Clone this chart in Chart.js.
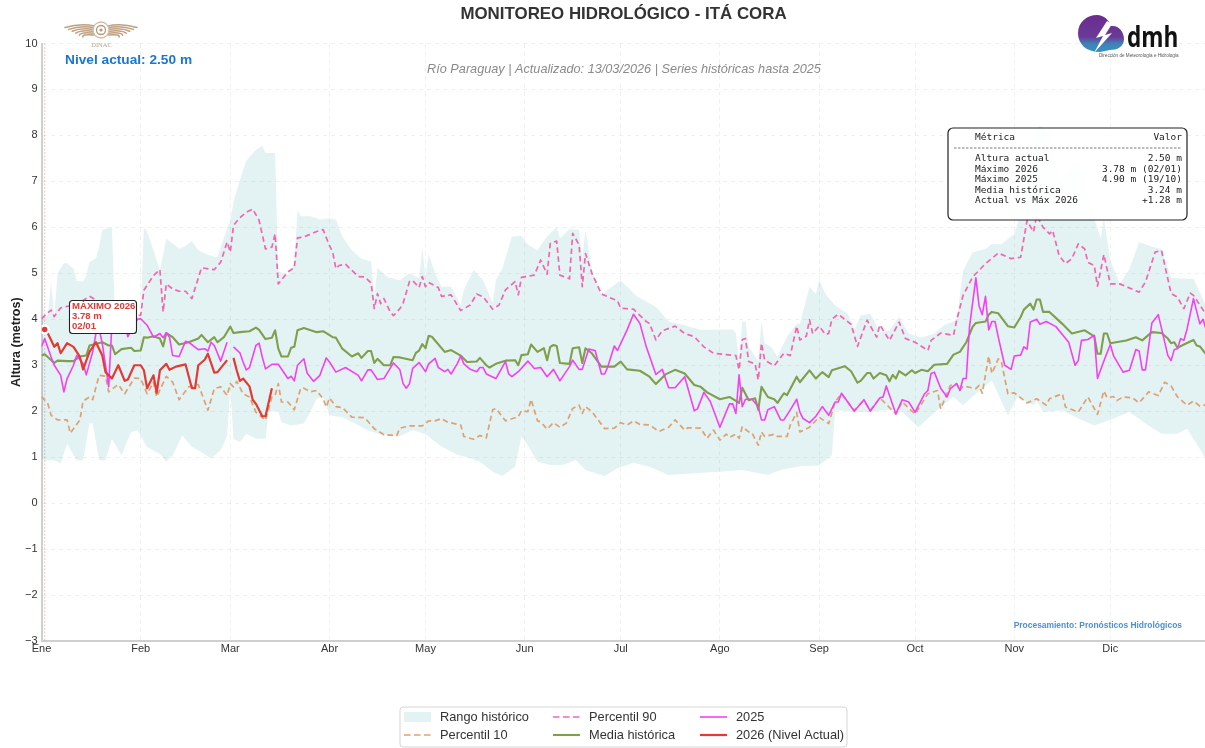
<!DOCTYPE html>
<html>
<head>
<meta charset="utf-8">
<title>Monitoreo hidrológico - Itá Cora</title>
<script src="https://cdn.jsdelivr.net/npm/chart.js@4"></script>
<style>
  html, body { margin: 0; padding: 0; background: #fff; overflow: hidden; }
  canvas { display: block; }
</style>
</head>
<body>
<canvas id="chart" width="1205" height="748"></canvas>
<script>
// Day of the year (0 = 1 Jan) and height in metres
const monthStarts = [0, 31, 59, 90, 120, 151, 181, 212, 243, 273, 304, 334]
const monthLabels = ['Ene', 'Feb', 'Mar', 'Abr', 'May', 'Jun', 'Jul', 'Ago', 'Sep', 'Oct', 'Nov', 'Dic']

const rangeMax = [[0,4.0],[2,4.1],[3,4.8],[4,4.05],[5,5.0],[7,5.22],[8,5.22],[10,5.1],[11,4.83],[13,4.82],[14,4.95],[15,5.25],[17,5.32],[18,5.57],[19,5.95],[22,6.0],[23,4.0],[27,4.05],[31,4.05],[32,6.0],[33,5.9],[35,5.5],[37,5.06],[39,5.75],[42,5.6],[43,5.53],[45,5.6],[47,5.7],[49,5.5],[52,5.4],[55,5.35],[56,5.57],[59,6.15],[60,6.55],[62,7.03],[64,7.45],[67,7.69],[69,7.77],[70,7.62],[73,7.62],[74,5.05],[75,5.02],[77,4.97],[79,5.2],[80,6.37],[81,6.24],[84,6.24],[87,6.17],[90,6.2],[92,6.17],[94,5.8],[97,5.5],[100,5.32],[103,5.25],[104,4.45],[105,5.12],[108,4.92],[112,4.85],[115,5.0],[118,4.89],[119,5.55],[120,4.92],[121,5.4],[123,5.0],[125,4.71],[128,4.71],[131,4.31],[132,4.64],[135,5.07],[138,4.85],[141,4.35],[142,4.85],[144,5.1],[147,5.8],[150,5.81],[152,5.62],[155,5.5],[158,5.8],[161,6.0],[162,5.76],[165,5.96],[168,5.95],[169,5.33],[170,5.95],[172,5.07],[175,4.53],[177,4.64],[181,4.85],[186,4.5],[192,4.27],[196,3.95],[201,3.87],[206,3.77],[216,3.78],[217,3.7],[218,3.1],[219,3.95],[220,3.95],[221,3.4],[224,3.1],[225,3.95],[226,3.48],[228,3.4],[230,3.19],[233,3.62],[236,3.9],[237,3.9],[240,4.7],[242,4.55],[243,4.86],[245,4.55],[248,4.3],[252,4.12],[254,3.76],[256,4.08],[259,4.12],[262,3.72],[265,3.76],[268,4.05],[271,3.69],[275,3.6],[279,3.69],[282,3.87],[286,3.98],[288,5.06],[291,5.46],[295,5.53],[297,5.64],[300,5.63],[304,5.86],[306,6.3],[308,7.4],[310,8.1],[312,8.2],[315,8.1],[318,7.0],[324,7.38],[329,6.2],[331,5.75],[332,6.2],[334,5.28],[337,4.77],[340,5.1],[343,5.68],[347,5.58],[350,5.53],[353,4.9],[357,4.88],[360,4.88],[364,4.27]]

const rangeMin = [[0,0.97],[1,0.93],[4,0.93],[6,0.87],[8,1.29],[11,0.93],[13,0.93],[15,1.73],[16,1.73],[18,0.93],[20,0.93],[22,1.4],[25,1.04],[28,1.55],[30,1.58],[33,1.22],[37,1.07],[39,0.9],[41,1.04],[44,1.47],[47,1.22],[49,1.15],[53,0.97],[56,1.15],[58,1.47],[59,2.5],[60,1.4],[62,1.33],[64,1.51],[67,1.4],[70,1.4],[71,2.0],[74,2.0],[75,1.76],[78,1.69],[82,1.73],[84,1.98],[86,2.27],[88,2.31],[90,1.91],[94,1.87],[98,1.73],[102,1.58],[107,1.47],[112,1.46],[116,1.59],[120,1.5],[125,1.23],[130,1.05],[133,1.0],[137,0.9],[141,0.68],[144,0.59],[148,0.79],[150,1.45],[152,1.26],[155,0.9],[159,0.83],[163,0.83],[167,0.94],[170,0.72],[176,0.59],[180,0.76],[185,0.88],[190,0.79],[196,0.61],[204,0.65],[212,0.68],[219,0.72],[227,0.61],[231,0.72],[237,0.8],[243,0.82],[247,1.04],[248,2.02],[258,1.98],[264,2.02],[268,2.05],[274,1.65],[277,1.84],[281,2.09],[285,2.31],[288,2.13],[292,2.38],[297,2.67],[302,1.91],[305,2.31],[310,2.13],[311,2.23],[313,1.98],[319,2.02],[324,1.84],[329,1.69],[335,1.84],[340,1.98],[345,1.73],[350,1.51],[355,1.51],[358,1.62],[362,1.18],[364,0.93]]

const percentil10 = [[0,2.32],[2,2.16],[3,1.91],[5,1.81],[8,1.81],[9,1.52],[12,1.81],[13,2.22],[15,2.31],[16,2.25],[18,2.78],[20,2.76],[21,2.42],[23,2.53],[24,2.58],[26,2.38],[29,2.72],[31,2.71],[33,2.38],[35,2.63],[36,2.31],[39,2.76],[41,2.63],[43,2.25],[46,2.53],[49,2.58],[52,2.02],[54,2.49],[56,2.53],[58,2.34],[59,2.6],[60,2.53],[61,2.65],[63,2.38],[65,2.31],[67,1.98],[70,1.8],[72,2.31],[73,2.34],[74,2.6],[75,2.2],[77,2.2],[79,2.03],[81,2.5],[82,2.5],[84,2.42],[86,2.45],[88,2.27],[89,2.09],[90,2.29],[92,2.1],[94,2.08],[97,1.87],[101,1.86],[104,1.62],[107,1.49],[111,1.47],[112,1.63],[115,1.68],[119,1.68],[121,1.79],[123,1.79],[125,1.84],[127,1.76],[131,1.7],[132,1.45],[135,1.39],[137,1.47],[139,1.42],[141,2.03],[142,2.06],[145,1.79],[149,1.88],[150,2.01],[152,1.99],[153,2.26],[155,1.79],[156,1.77],[158,1.61],[160,1.75],[162,1.65],[164,1.74],[166,2.06],[168,2.13],[169,1.95],[170,2.1],[172,1.99],[176,1.62],[179,1.63],[181,1.75],[183,1.7],[185,1.79],[187,1.71],[190,1.7],[193,1.56],[196,1.65],[198,1.81],[201,1.59],[202,1.64],[206,1.63],[208,1.41],[210,1.59],[212,1.37],[214,1.5],[215,1.43],[217,1.5],[218,1.41],[219,1.66],[221,1.55],[222,1.53],[224,1.26],[225,1.55],[226,1.45],[229,1.5],[230,1.45],[233,1.45],[234,1.7],[236,1.97],[237,1.55],[240,1.65],[243,1.87],[246,1.73],[248,2.2],[250,2.38],[254,2.02],[257,2.23],[259,2.02],[262,2.29],[267,1.94],[269,2.2],[273,1.94],[277,2.38],[280,2.45],[281,2.05],[284,2.56],[286,2.6],[287,2.45],[288,2.55],[292,2.49],[293,2.56],[294,2.39],[296,3.2],[297,2.82],[299,3.14],[300,3.07],[302,2.38],[304,2.4],[308,2.18],[311,2.27],[314,2.13],[315,2.27],[319,2.38],[320,2.09],[324,1.98],[327,2.31],[330,1.93],[332,2.44],[333,2.29],[335,2.32],[336,2.23],[338,2.31],[341,2.29],[343,2.18],[346,2.42],[349,2.34],[351,2.63],[353,2.55],[355,2.31],[358,2.13],[360,2.22],[362,2.11],[364,2.14]]

const percentil90 = [[0,4.01],[1,4.08],[3,4.2],[4,4.06],[6,4.25],[8,4.28],[11,4.3],[13,4.41],[15,4.5],[20,4.3],[25,4.1],[30,4.08],[31,4.09],[32,4.63],[33,4.74],[35,4.95],[37,5.08],[38,4.16],[39,4.77],[41,4.66],[43,4.61],[45,4.61],[47,4.45],[50,5.12],[54,5.08],[56,5.24],[58,5.68],[59,5.46],[60,6.04],[62,6.21],[64,6.33],[66,6.4],[68,6.15],[70,5.53],[72,5.57],[73,5.86],[74,4.77],[77,5.03],[79,5.12],[80,5.77],[82,5.79],[86,5.91],[88,5.95],[90,5.6],[91,5.46],[92,5.1],[93,5.17],[95,5.2],[96,5.13],[99,4.93],[101,4.92],[103,4.79],[104,4.23],[105,4.56],[106,4.34],[107,4.45],[109,4.16],[110,4.08],[112,4.23],[113,4.35],[115,4.82],[116,4.84],[118,4.69],[119,4.93],[120,4.71],[121,4.8],[124,4.69],[125,4.5],[128,4.53],[131,4.19],[134,4.31],[136,4.55],[138,4.49],[141,4.22],[143,4.31],[145,4.64],[148,4.82],[149,4.53],[150,4.91],[154,4.96],[156,5.29],[158,4.98],[159,5.65],[161,5.7],[162,4.96],[165,4.88],[166,5.87],[168,5.62],[169,4.71],[170,5.43],[172,5.0],[175,4.55],[180,4.4],[181,4.24],[185,4.22],[189,3.95],[190,3.91],[192,3.55],[194,3.75],[198,3.85],[201,3.69],[204,3.62],[207,3.4],[210,3.26],[217,3.21],[218,2.9],[219,3.56],[220,3.58],[221,3.08],[223,3.03],[224,2.68],[225,3.48],[226,3.11],[229,2.99],[232,3.26],[234,3.21],[236,3.85],[237,3.55],[239,3.63],[240,3.99],[241,3.69],[243,3.85],[245,3.67],[246,3.69],[247,4.0],[249,4.11],[253,3.89],[255,3.41],[258,3.98],[261,3.61],[262,3.88],[265,3.54],[268,3.94],[270,3.58],[273,3.5],[277,3.32],[278,3.54],[281,3.7],[285,3.65],[286,3.98],[288,4.52],[291,4.92],[295,5.21],[299,5.44],[303,5.32],[306,5.35],[308,6.15],[310,5.9],[311,6.26],[313,6.0],[315,5.86],[316,5.93],[318,5.39],[320,5.21],[322,5.32],[324,5.64],[326,5.53],[327,5.24],[329,5.17],[330,4.72],[332,5.41],[334,4.77],[337,4.77],[343,4.59],[345,4.81],[348,5.46],[350,5.5],[353,4.56],[355,4.48],[357,4.23],[359,4.57],[360,4.52],[364,4.1]]

const mediaHistorica = [[0,3.21],[1,3.24],[4,3.05],[5,3.1],[8,3.09],[10,3.09],[12,3.19],[14,3.21],[15,3.43],[19,3.5],[21,3.43],[22,3.43],[23,3.24],[25,3.35],[28,3.38],[29,3.31],[31,3.32],[32,3.61],[33,3.6],[35,3.63],[37,3.58],[38,3.41],[39,3.7],[41,3.61],[43,3.45],[46,3.5],[49,3.58],[50,3.66],[52,3.5],[54,3.61],[55,3.5],[57,3.61],[59,3.84],[60,3.7],[62,3.72],[65,3.74],[67,3.82],[68,3.77],[70,3.57],[72,3.6],[73,3.76],[74,3.36],[75,3.19],[77,3.19],[78,3.38],[79,3.4],[80,3.76],[82,3.81],[86,3.72],[88,3.74],[91,3.61],[92,3.6],[94,3.36],[97,3.19],[99,3.26],[100,3.16],[102,3.31],[103,3.31],[104,3.05],[105,3.14],[107,3.0],[109,3.0],[110,3.18],[112,3.17],[116,3.11],[117,3.27],[118,3.32],[119,3.46],[120,3.37],[121,3.64],[122,3.62],[126,3.29],[128,3.33],[131,3.21],[133,3.07],[136,3.08],[137,3.16],[139,3.0],[140,2.95],[142,3.03],[145,3.1],[148,3.11],[149,3.0],[150,3.22],[152,3.24],[153,3.45],[155,3.29],[157,3.37],[158,3.11],[159,3.4],[160,3.44],[161,3.42],[162,3.05],[165,3.03],[166,3.37],[168,3.39],[169,3.05],[170,3.37],[172,3.26],[175,2.97],[179,2.97],[181,3.08],[183,2.91],[187,2.88],[190,2.75],[192,2.59],[195,2.8],[198,2.9],[201,2.82],[204,2.57],[206,2.53],[208,2.41],[212,2.26],[215,2.31],[218,2.18],[219,2.51],[221,2.24],[223,2.28],[224,2.03],[225,2.53],[227,2.31],[229,2.26],[230,2.18],[232,2.39],[233,2.35],[236,2.75],[237,2.63],[240,2.89],[242,2.71],[244,2.85],[246,2.74],[247,2.89],[251,2.98],[253,2.87],[255,2.62],[256,2.66],[258,2.83],[259,2.83],[260,2.71],[262,2.83],[264,2.78],[265,2.65],[266,2.79],[267,2.71],[268,2.87],[270,2.78],[272,2.89],[273,2.83],[275,2.9],[277,2.87],[279,3.01],[283,3.03],[285,3.23],[287,3.29],[289,3.5],[291,3.84],[292,3.92],[295,3.95],[296,4.1],[297,4.16],[299,4.13],[302,3.85],[304,3.82],[306,4.05],[307,4.21],[309,4.34],[310,4.21],[311,4.43],[312,4.43],[313,4.16],[315,4.16],[319,3.9],[322,3.69],[326,3.76],[329,3.63],[330,3.25],[331,3.25],[332,3.69],[333,3.69],[334,3.48],[339,3.54],[342,3.61],[344,3.54],[347,3.72],[350,3.7],[352,3.58],[353,3.48],[354,3.5],[355,3.38],[357,3.45],[360,3.55],[361,3.43],[362,3.41],[364,3.23]]

const serie2025 = [[0,3.41],[1,3.58],[3,3.18],[4,3.0],[6,2.78],[7,2.42],[8,2.71],[10,3.0],[11,3.21],[13,3.03],[14,2.79],[16,3.29],[17,3.69],[18,3.79],[19,3.47],[21,2.53],[22,3.9],[23,4.0],[25,4.05],[26,3.9],[27,3.62],[29,3.9],[30,4.0],[31,4.01],[33,3.87],[35,3.61],[37,3.69],[38,3.6],[39,3.71],[40,3.61],[41,3.21],[43,3.19],[45,3.52],[46,3.5],[49,3.34],[51,3.36],[52,3.31],[53,3.5],[54,3.43],[56,3.09],[58,3.5],[59,null],[60,3.4],[62,3.27],[63,3.07],[64,2.9],[65,2.95],[67,3.43],[68,3.48],[69,3.18],[70,2.92],[72,3.02],[74,3.02],[77,2.71],[78,2.76],[79,2.66],[80,3.0],[82,3.14],[83,2.83],[85,2.65],[87,2.78],[89,3.16],[90,3.07],[92,2.85],[95,2.95],[99,2.78],[100,2.66],[102,2.9],[103,2.9],[105,2.69],[107,2.71],[110,3.05],[112,2.9],[113,2.6],[114,2.5],[115,2.6],[116,2.93],[118,3.06],[120,2.86],[121,3.03],[123,3.15],[124,2.95],[126,2.86],[127,2.91],[128,2.81],[130,3.04],[131,3.2],[132,3.03],[134,2.91],[136,2.86],[137,2.95],[138,2.95],[139,2.81],[142,2.71],[145,3.08],[146,2.81],[147,2.75],[149,2.86],[152,3.09],[154,2.93],[156,2.95],[158,2.75],[160,2.91],[162,2.66],[165,2.97],[166,3.11],[168,2.91],[169,2.91],[171,3.35],[173,3.32],[175,2.81],[176,2.81],[177,2.97],[179,3.42],[180,3.32],[183,3.77],[185,4.11],[187,3.91],[189,3.4],[192,2.8],[194,2.91],[196,2.51],[198,2.51],[201,2.75],[204,2.01],[205,2.05],[207,2.41],[209,2.21],[212,1.65],[215,2.16],[216,2.16],[217,1.95],[218,2.79],[219,2.1],[220,2.26],[222,2.26],[224,2.1],[225,1.81],[226,1.81],[227,2.03],[229,2.1],[231,1.81],[232,1.81],[234,2.03],[236,2.26],[237,1.98],[238,1.84],[240,1.75],[242,1.89],[244,2.1],[246,1.91],[248,2.2],[249,2.2],[250,2.39],[254,2.0],[257,2.25],[259,2.0],[262,2.29],[263,2.31],[264,2.55],[267,1.94],[269,2.25],[271,2.2],[273,1.98],[276,2.38],[277,2.45],[278,2.82],[279,2.85],[281,2.5],[283,2.31],[284,2.49],[286,2.6],[287,2.45],[288,2.71],[289,2.71],[290,3.83],[292,4.9],[293,4.29],[294,4.1],[295,4.5],[296,3.77],[297,3.95],[298,3.95],[299,3.61],[301,3.0],[303,2.91],[304,3.2],[306,3.22],[307,3.4],[308,3.35],[309,3.94],[311,4.0],[312,3.89],[314,3.95],[317,3.84],[321,3.5],[323,3.0],[324,3.1],[325,3.54],[327,3.56],[329,3.65],[330,2.71],[332,3.09],[334,3.45],[335,3.21],[338,2.85],[340,2.89],[342,3.34],[343,3.31],[344,2.9],[345,2.9],[347,3.92],[349,4.1],[352,3.21],[353,3.1],[354,3.34],[355,3.36],[356,3.58],[357,3.54],[358,3.79],[360,4.45],[362,3.9],[363,4.0],[364,3.76]]

const serie2026 = [[1,3.78],[2,3.69],[4,3.4],[5,3.48],[6,3.26],[8,3.48],[10,3.4],[12,3.18],[13,2.91],[15,3.29],[17,3.5],[19,3.21],[20,2.85],[22,2.71],[24,3.0],[26,2.66],[27,2.69],[29,3.0],[31,3.0],[32,2.89],[33,2.5],[35,2.78],[36,2.4],[37,2.89],[39,3.03],[40,2.9],[42,2.97],[45,3.02],[47,2.5],[48,2.5],[49,3.0],[51,3.12],[52,3.25],[54,2.84],[55,2.85],[58,3.11],[59,null],[60,3.16],[61,2.89],[62,2.66],[63,2.71],[65,2.54],[66,2.25],[67,2.16],[69,1.89],[70,1.89],[72,2.5]]

const maximo2026 = [[1,3.78]]

const yMin = -3
const yMax = 10
const xMax = 363.6

const infoRows = [
  ['Altura actual', '2.50 m'],
  ['Máximo 2026', '3.78 m (02/01)'],
  ['Máximo 2025', '4.90 m (19/10)'],
  ['Media histórica', '3.24 m'],
  ['Actual vs Máx 2026', '+1.28 m'],
]

const SANS = '"Liberation Sans", Arial, sans-serif'
const MONO = '"DejaVu Sans Mono", monospace'
const toPoints = list => list.map(([x, y]) => ({ x, y }))

function roundedBox(ctx, x, y, w, h, r, fill, stroke, lineWidth) {
  ctx.beginPath()
  ctx.roundRect(x, y, w, h, r)
  ctx.fillStyle = fill
  ctx.fill()
  ctx.strokeStyle = stroke
  ctx.lineWidth = lineWidth
  ctx.stroke()
}

function drawText(ctx, text, x, y, font, color, align) {
  ctx.font = font
  ctx.fillStyle = color
  ctx.textAlign = align || 'left'
  ctx.textBaseline = 'middle'
  ctx.fillText(text, x, y)
}

function drawDinacLogo(ctx) {
  ctx.save()
  ctx.strokeStyle = '#c19f7e'
  ctx.lineCap = 'round'
  // wings, one curved stroke per feather
  for (const side of [-1, 1]) {
    for (let i = 0; i < 6; i++) {
      ctx.beginPath()
      ctx.moveTo(101 + side * 7, 26 + i * 1.8)
      ctx.quadraticCurveTo(101 + side * 20, 23 + i * 2.2, 101 + side * (36 - i * 3.6), 27.5 + i * 1.9)
      ctx.lineWidth = 1.5
      ctx.stroke()
    }
  }
  ctx.beginPath()
  ctx.arc(101, 30, 8, 0, Math.PI * 2)
  ctx.fillStyle = '#fff'
  ctx.fill()
  ctx.lineWidth = 1.3
  ctx.strokeStyle = '#d2bba3'
  ctx.stroke()
  ctx.beginPath()
  ctx.arc(101, 30, 4.5, 0, Math.PI * 2)
  ctx.strokeStyle = '#b8977a'
  ctx.stroke()
  ctx.beginPath()
  ctx.arc(101, 30, 1.6, 0, Math.PI * 2)
  ctx.fillStyle = '#b8977a'
  ctx.fill()
  ctx.restore()
  drawText(ctx, 'DINAC', 101.5, 45, '6.5px "Liberation Serif", serif', '#b9a48f', 'center')
}

function drawDmhLogo(ctx) {
  ctx.save()
  const gradient = ctx.createLinearGradient(0, 15, 0, 55)
  gradient.addColorStop(0, '#6c2c8f')
  gradient.addColorStop(0.55, '#6a3a97')
  gradient.addColorStop(0.72, '#3f82b8')
  gradient.addColorStop(1, '#2f9ac0')
  ctx.fillStyle = gradient
  ctx.beginPath()
  ctx.moveTo(1100, 52)
  ctx.bezierCurveTo(1086, 52, 1078, 44, 1078, 33)
  ctx.bezierCurveTo(1078, 22, 1087, 15, 1097, 15)
  ctx.bezierCurveTo(1104, 15, 1109, 20, 1111, 26)
  ctx.bezierCurveTo(1120, 25, 1124, 33, 1124, 39)
  ctx.bezierCurveTo(1124, 47, 1117, 50, 1110, 50)
  ctx.closePath()
  ctx.fill()
  ctx.fillStyle = '#fff'
  ctx.beginPath()
  ctx.moveTo(1107, 21)
  ctx.lineTo(1096, 38)
  ctx.lineTo(1103, 36)
  ctx.lineTo(1094, 53)
  ctx.lineTo(1112, 33)
  ctx.lineTo(1105, 35)
  ctx.lineTo(1112, 24)
  ctx.closePath()
  ctx.fill()
  ctx.restore()
  ctx.save()
  ctx.translate(1127, 39)
  ctx.scale(0.78, 1)
  drawText(ctx, 'dmh', 0, 0, 'bold 29px "Open Sans", ' + SANS, '#111')
  ctx.restore()
  drawText(ctx, 'Dirección de Meteorología e Hidrología', 1099, 55.5, '4.6px ' + SANS, '#555')
}

function drawInfoBox(ctx) {
  roundedBox(ctx, 948, 128, 239, 92, 5, 'rgba(255,255,255,0.9)', '#222', 1.2)
  const font = '9.5px ' + MONO
  drawText(ctx, 'Métrica', 975, 137.7, font, '#222')
  drawText(ctx, 'Valor', 1182, 137.7, font, '#222', 'right')
  ctx.save()
  ctx.beginPath()
  ctx.setLineDash([2.5, 1.5])
  ctx.moveTo(954, 148)
  ctx.lineTo(1182, 148)
  ctx.strokeStyle = '#555'
  ctx.lineWidth = 0.8
  ctx.stroke()
  ctx.restore()
  infoRows.forEach((row, i) => {
    const y = 158.5 + i * 10.6
    drawText(ctx, row[0], 975, y, font, '#222')
    drawText(ctx, row[1], 1182, y, font, '#222', 'right')
  })
}

function drawLegend(ctx, chart) {
  roundedBox(ctx, 400, 707, 447, 40, 3, '#fff', '#d5d5d5', 1)
  const font = '12.8px ' + SANS
  const items = [
    [0, 404, 717], [2, 404, 735],
    [3, 553, 717], [4, 553, 735],
    [5, 700, 717], [6, 700, 735],
  ]
  for (const [index, x, y] of items) {
    const ds = chart.data.datasets[index]
    ctx.save()
    if (index === 0) {
      ctx.fillStyle = ds.backgroundColor
      ctx.fillRect(x, y - 5, 27, 10)
    } else {
      ctx.beginPath()
      ctx.setLineDash(ds.borderDash ? [6.5, 3.5] : [])
      ctx.moveTo(x, y)
      ctx.lineTo(x + 27, y)
      ctx.strokeStyle = ds.borderColor
      ctx.lineWidth = ds.borderWidth
      ctx.stroke()
    }
    ctx.restore()
    drawText(ctx, ds.label, x + 36, y, font, '#333')
  }
}

const decorations = {
  id: 'decorations',
  beforeDatasetsDraw(chart) {
    const { ctx, chartArea, scales } = chart
    // thin marker line on the day of the 2026 maximum
    const x = scales.x.getPixelForValue(maximo2026[0][0])
    ctx.save()
    ctx.beginPath()
    ctx.setLineDash([2, 1.5])
    ctx.moveTo(x, chartArea.top)
    ctx.lineTo(x, chartArea.bottom)
    ctx.strokeStyle = 'rgba(229,57,53,0.3)'
    ctx.lineWidth = 1
    ctx.stroke()
    ctx.restore()
  },
  afterDraw(chart) {
    const { ctx } = chart
    ctx.save()
    drawText(ctx, 'MONITOREO HIDROLÓGICO - ITÁ CORA', 623.5, 14, 'bold 16.9px ' + SANS, '#333', 'center')
    drawText(ctx, 'Río Paraguay | Actualizado: 13/03/2026 | Series históricas hasta 2025', 624, 69, 'italic 12.7px ' + SANS, '#8a8a8a', 'center')
    drawText(ctx, 'Nivel actual: 2.50 m', 65, 60.5, 'bold 13.7px ' + SANS, '#1976d2')
    drawText(ctx, 'Procesamiento: Pronósticos Hidrológicos', 1182, 626, 'bold 8.45px ' + SANS, '#4a90d9', 'right')

    drawDinacLogo(ctx)
    drawDmhLogo(ctx)
    drawInfoBox(ctx)

    roundedBox(ctx, 69.5, 300.5, 67, 33, 3, '#fff', '#222', 1.1)
    const font = 'bold 9.6px ' + SANS
    drawText(ctx, 'MÁXIMO 2026', 72, 306, font, '#e53935')
    drawText(ctx, '3.78 m', 72, 316, font, '#e53935')
    drawText(ctx, '02/01', 72, 326, font, '#e53935')

    drawLegend(ctx, chart)
    ctx.restore()
  },
}

const gridLine = {
  color: 'rgba(0,0,0,0.06)',
  drawTicks: false,
}

const lineStyle = {
  pointRadius: 0,
  fill: false,
  borderJoinStyle: 'round',
}

new Chart(document.getElementById('chart'), {
  type: 'line',
  data: {
    datasets: [
      {
        label: 'Rango histórico',
        data: toPoints(rangeMax),
        borderWidth: 0,
        pointRadius: 0,
        tension: 0,
        backgroundColor: 'rgba(0,137,150,0.11)',
        fill: '+1',
        order: 10,
      },
      {
        label: 'Rango mínimo',
        data: toPoints(rangeMin),
        borderWidth: 0,
        pointRadius: 0,
        tension: 0,
        fill: false,
        order: 9,
      },
      {
        ...lineStyle,
        label: 'Percentil 10',
        data: toPoints(percentil10),
        borderColor: 'rgba(222,152,100,0.9)',
        borderWidth: 1.7,
        borderDash: [5.5, 3.5],
        order: 6,
      },
      {
        ...lineStyle,
        label: 'Percentil 90',
        data: toPoints(percentil90),
        borderColor: 'rgba(242,95,170,0.95)',
        borderWidth: 1.7,
        borderDash: [5.5, 3.5],
        order: 5,
      },
      {
        ...lineStyle,
        label: 'Media histórica',
        data: toPoints(mediaHistorica),
        borderColor: '#7f9f4c',
        borderWidth: 2.1,
        order: 4,
      },
      {
        ...lineStyle,
        label: '2025',
        data: toPoints(serie2025),
        borderColor: '#f53ff5',
        borderWidth: 1.6,
        spanGaps: false,
        order: 3,
      },
      {
        ...lineStyle,
        label: '2026 (Nivel Actual)',
        data: toPoints(serie2026),
        borderColor: '#e53935',
        borderWidth: 2.2,
        spanGaps: false,
        order: 2,
      },
      {
        label: 'Máximo 2026',
        data: toPoints(maximo2026),
        showLine: false,
        pointRadius: 4,
        pointBackgroundColor: '#e53935',
        pointBorderColor: '#fff',
        pointBorderWidth: 2.5,
        order: 1,
      },
    ],
  },
  options: {
    responsive: false,
    animation: false,
    layout: { autoPadding: false, padding: { top: 43.5, right: 0, bottom: 87, left: 0 } },
    plugins: {
      legend: { display: false },
      tooltip: { enabled: false },
    },
    scales: {
      x: {
        type: 'linear',
        min: 0,
        max: xMax,
        afterFit(scale) {
          scale.height = 20
          scale.paddingRight = 0
          scale.paddingLeft = 0
        },
        afterBuildTicks(scale) { scale.ticks = monthStarts.map(value => ({ value })) },
        grid: gridLine,
        border: { color: '#cfcfcf', width: 2, dash: [4, 4] },
        ticks: {
          autoSkip: false,
          maxRotation: 0,
          padding: 1,
          color: '#333',
          font: { family: SANS, size: 11 },
          callback: value => monthLabels[monthStarts.indexOf(value)],
        },
      },
      y: {
        min: yMin,
        max: yMax,
        afterFit(scale) { scale.width = 41.5 },
        grid: gridLine,
        border: { color: '#cfcfcf', width: 2, dash: [4, 4] },
        ticks: {
          stepSize: 1,
          padding: 4,
          color: '#333',
          font: { family: SANS, size: 11 },
          callback: value => String(value).replace('-', '\u2212'),
        },
        title: {
          display: true,
          text: 'Altura (metros)',
          color: '#222',
          padding: { top: 9, bottom: 0 },
          font: { family: SANS, size: 12.5, weight: 'bold' },
        },
      },
    },
  },
  plugins: [decorations],
})
</script>
</body>
</html>
